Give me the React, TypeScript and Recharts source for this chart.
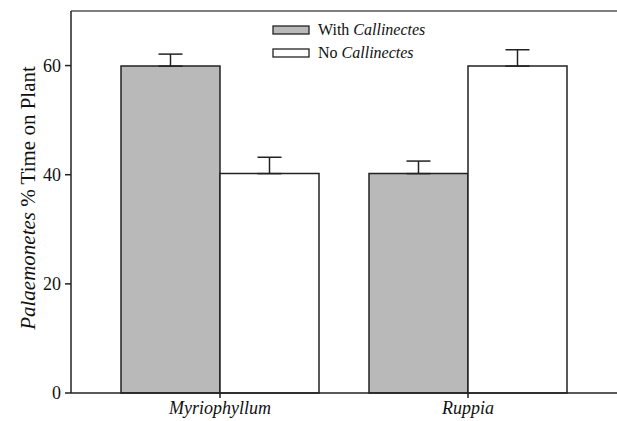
import React from "react";
import {
  BarChart,
  Bar,
  XAxis,
  YAxis,
  ErrorBar,
  ReferenceLine,
} from "recharts";

const plants = ["Myriophyllum", "Ruppia"];
const withCallinectes = [59.9, 40.2];
const withErr = [2.2, 2.3];
const noCallinectes = [40.2, 59.9];
const noErr = [3.0, 3.0];
const yTicks = [0, 20, 40, 60];

const data = plants.map((plant, i) => ({
  plant,
  withC: withCallinectes[i],
  withE: [0, withErr[i]],
  noC: noCallinectes[i],
  noE: [0, noErr[i]],
}));

const FONT = "Liberation Serif";
const GRAY = "#b9b9b9";
const INK = "#222";

function PlantTick({ x, y, payload }: any) {
  return (
    <text x={x} y={y} dy={14} textAnchor="middle" fontFamily={FONT} fontStyle="italic" fontSize={18} fill="#111">
      {payload.value}
    </text>
  );
}

function YTick({ x, y, payload }: any) {
  return (
    <text x={x} y={y} dy={6} textAnchor="end" fontFamily={FONT} fontSize={18} fill="#111">
      {payload.value}
    </text>
  );
}

// title and legend sit in an svg laid over the chart
function Overlay() {
  const rows = [
    { fill: GRAY, label: "With", y: 26 },
    { fill: "#fff", label: "No", y: 49 },
  ];
  return (
    <svg width={617} height={421} style={{ position: "absolute", left: 0, top: 0, pointerEvents: "none" }}>
      <text
        x={35}
        y={198}
        transform="rotate(-90, 35, 198)"
        textAnchor="middle"
        fontFamily={FONT}
        fontSize={21}
        fill="#111"
      >
        <tspan fontStyle="italic">Palaemonetes</tspan>
        <tspan> % Time on Plant</tspan>
      </text>
      {rows.map((r) => (
        <g key={r.label}>
          <rect x={273} y={r.y} width={36} height={8} fill={r.fill} stroke={INK} strokeWidth={1.3} />
          <text x={318} y={r.y + 9} fontFamily={FONT} fontSize={16} fill="#111">
            {r.label} <tspan fontStyle="italic">Callinectes</tspan>
          </text>
        </g>
      ))}
    </svg>
  );
}

export default function App() {
  return (
    <div style={{ position: "absolute", left: 0, top: 0, width: 617, height: 421, background: "#fff" }}>
      <BarChart
        width={617}
        height={421}
        data={data}
        margin={{ top: 11, right: 0, bottom: 0, left: 0 }}
        barCategoryGap={25}
        barGap={0}
      >
        <XAxis
          dataKey="plant"
          padding={{ left: 25, right: 25 }}
          tick={<PlantTick />}
          tickSize={5}
          tickMargin={2}
          height={28}
          axisLine={{ stroke: INK, strokeWidth: 1.5 }}
          tickLine={{ stroke: INK, strokeWidth: 1.5 }}
        />
        <YAxis
          domain={[0, 70]}
          ticks={yTicks}
          width={71}
          tickSize={6}
          tickMargin={4}
          tick={<YTick />}
          axisLine={{ stroke: INK, strokeWidth: 1.5 }}
          tickLine={{ stroke: INK, strokeWidth: 1.5 }}
        />
        <ReferenceLine y={70} stroke="#555" strokeWidth={1.5} />
        <Bar dataKey="withC" fill={GRAY} stroke={INK} strokeWidth={1.5} isAnimationActive={false}>
          <ErrorBar dataKey="withE" width={12} stroke={INK} strokeWidth={1.5} direction="y" />
        </Bar>
        <Bar dataKey="noC" fill="#fff" stroke={INK} strokeWidth={1.5} isAnimationActive={false}>
          <ErrorBar dataKey="noE" width={12} stroke={INK} strokeWidth={1.5} direction="y" />
        </Bar>
      </BarChart>
      <Overlay />
    </div>
  );
}
